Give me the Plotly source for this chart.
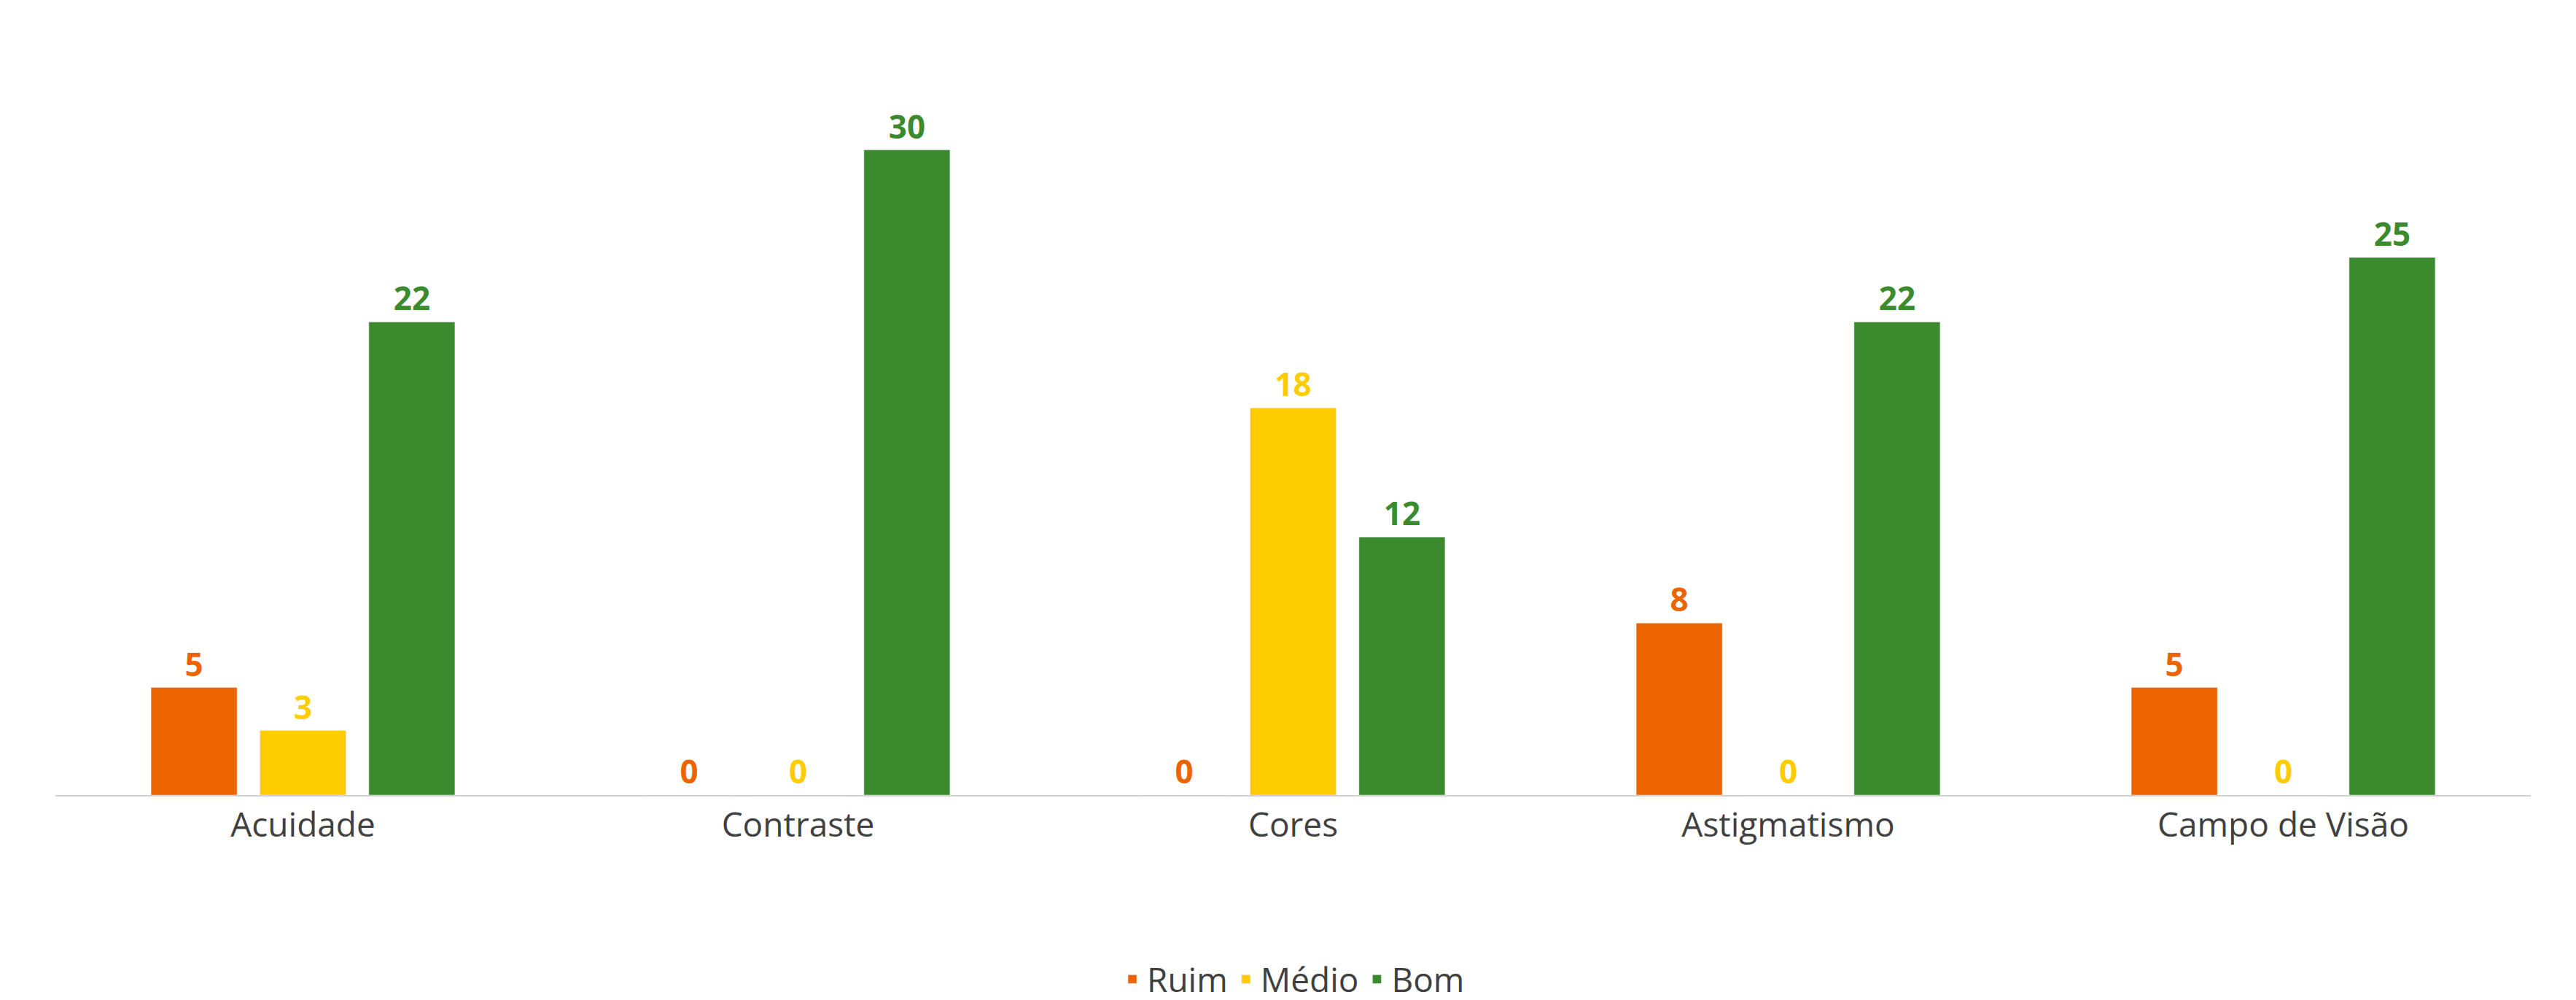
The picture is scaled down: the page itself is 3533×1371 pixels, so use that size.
import plotly.graph_objects as go

categorias = ["Acuidade", "Contraste", "Cores", "Astigmatismo", "Campo de Visão"]
ruim = [5, 0, 0, 8, 5]
medio = [3, 0, 18, 0, 0]
bom = [22, 30, 12, 22, 25]

series = [("Ruim", ruim, "#EB6400"), ("Médio", medio, "#FFCC00"), ("Bom", bom, "#3C8A2E")]

fig = go.Figure()
for nome, vals, cor in series:
    fig.add_trace(go.Bar(
        x=categorias, y=vals, name=nome, marker_color=cor,
        text=vals, textposition="outside", cliponaxis=False,
        textfont=dict(family="Open Sans", size=44, color=cor, weight="bold"),
    ))

fig.update_layout(
    width=3533, height=1371,
    plot_bgcolor="white", paper_bgcolor="white",
    barmode="group", bargap=0.34, bargroupgap=0.21,
    margin=dict(l=68, r=70, t=0, b=270),
    font=dict(family="Open Sans", size=44, color="#404040"),
    xaxis=dict(showline=True, linecolor="#D0D0D0", linewidth=2, ticks="",
               tickfont=dict(size=46, color="#404040")),
    yaxis=dict(visible=False, range=[0, 36.7]),
    legend=dict(orientation="h", x=0.5, xanchor="center", y=-0.2, yanchor="top",
                font=dict(size=46, color="#404040")),
    uniformtext=dict(mode=False),
)
fig.write_html("out.html")
